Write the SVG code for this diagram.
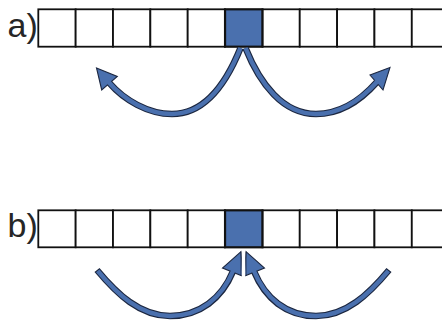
<svg xmlns="http://www.w3.org/2000/svg" width="442" height="320" viewBox="0 0 442 320">
<style>
.lbl{font-family:"Liberation Sans",Arial,sans-serif;font-size:34px;fill:#262626}
.cell{fill:#ffffff;stroke:#111111;stroke-width:1.8}
.sel{fill:#4a70ae;stroke:#111111;stroke-width:2.2}
.so{fill:none;stroke:#1c2740;stroke-width:6.6;stroke-linecap:butt}
.si{fill:none;stroke:#4a70ae;stroke-width:4.4;stroke-linecap:butt}
.hd{fill:#4a70ae;stroke:#1c2740;stroke-width:1.1;stroke-linejoin:miter}
</style>
<defs>
<clipPath id="clipL"><rect x="0" y="200" width="241.6" height="120"/></clipPath>
<clipPath id="clipR"><rect x="245.4" y="200" width="200" height="120"/></clipPath>
</defs>
<g id="label-a"><text class="lbl" x="7.5" y="36.7">a)</text></g>
<g id="label-b"><text class="lbl" x="7.5" y="237">b)</text></g>
<g id="row-a">
<rect class="cell" x="38.3" y="9.3" width="37.35" height="37.4"/>
<rect class="cell" x="75.65" y="9.3" width="37.35" height="37.4"/>
<rect class="cell" x="113" y="9.3" width="37.35" height="37.4"/>
<rect class="cell" x="150.35" y="9.3" width="37.35" height="37.4"/>
<rect class="cell" x="187.7" y="9.3" width="37.35" height="37.4"/>
<rect class="cell" x="262.4" y="9.3" width="37.35" height="37.4"/>
<rect class="cell" x="299.75" y="9.3" width="37.35" height="37.4"/>
<rect class="cell" x="337.1" y="9.3" width="37.35" height="37.4"/>
<rect class="cell" x="374.45" y="9.3" width="37.35" height="37.4"/>
<rect class="cell" x="411.8" y="9.3" width="37.35" height="37.4"/>
<rect class="sel" x="225.05" y="9.3" width="37.35" height="37.4"/>
</g>
<g id="row-b">
<rect class="cell" x="38.3" y="210.3" width="37.35" height="37"/>
<rect class="cell" x="75.65" y="210.3" width="37.35" height="37"/>
<rect class="cell" x="113" y="210.3" width="37.35" height="37"/>
<rect class="cell" x="150.35" y="210.3" width="37.35" height="37"/>
<rect class="cell" x="187.7" y="210.3" width="37.35" height="37"/>
<rect class="cell" x="262.4" y="210.3" width="37.35" height="37"/>
<rect class="cell" x="299.75" y="210.3" width="37.35" height="37"/>
<rect class="cell" x="337.1" y="210.3" width="37.35" height="37"/>
<rect class="cell" x="374.45" y="210.3" width="37.35" height="37"/>
<rect class="cell" x="411.8" y="210.3" width="37.35" height="37"/>
<rect class="sel" x="225.05" y="210.3" width="37.35" height="37"/>
</g>
<g id="connectors">
<g id="arrow-a-left">
<path class="so" d="M240.5 48 C226 84,205 114,172 114 C148 114,124 100,109.5 83.2"/>
<polygon class="hd" points="96.5,68 117.3,76.5 101.7,89.9"/>
<path class="si" d="M240.5 48 C226 84,205 114,172 114 C148 114,124 100,108 81.5"/>
</g>
<g id="arrow-a-right">
<path class="so" d="M245.5 48 C260 84,283 114,316 114 C340 114,361 100,376.5 82.5"/>
<polygon class="hd" points="390,67.5 370,75 383,90"/>
<path class="si" d="M245.5 48 C260 84,283 114,316 114 C340 114,361 100,378 80.8"/>
</g>
<g id="arrow-b-left" clip-path="url(#clipL)">
<path class="so" d="M97 270 C117 294,140 316,170 316 C200 316,222 298,232.7 272.1"/>
<polygon class="hd" points="241,251.7 222.5,268 242.9,276.2"/>
<path class="si" stroke-dasharray="0 1.1 2000" d="M97 270 C117 294,140 316,170 316 C200 316,222 298,233.5 270"/>
<line x1="241.1" y1="251.5" x2="241.1" y2="276" stroke="#1c2740" stroke-width="1"/>
</g>
<g id="arrow-b-right" clip-path="url(#clipR)">
<path class="so" d="M389 270 C369 294,346 316,316 316 C286 316,265 298,254.3 272.1"/>
<polygon class="hd" points="246,251.7 264.5,268 244.1,276.2"/>
<path class="si" stroke-dasharray="0 1.1 2000" d="M389 270 C369 294,346 316,316 316 C286 316,265 298,253.5 270"/>
<line x1="245.9" y1="251.5" x2="245.9" y2="276" stroke="#1c2740" stroke-width="1"/>
</g>
</g>
</svg>
